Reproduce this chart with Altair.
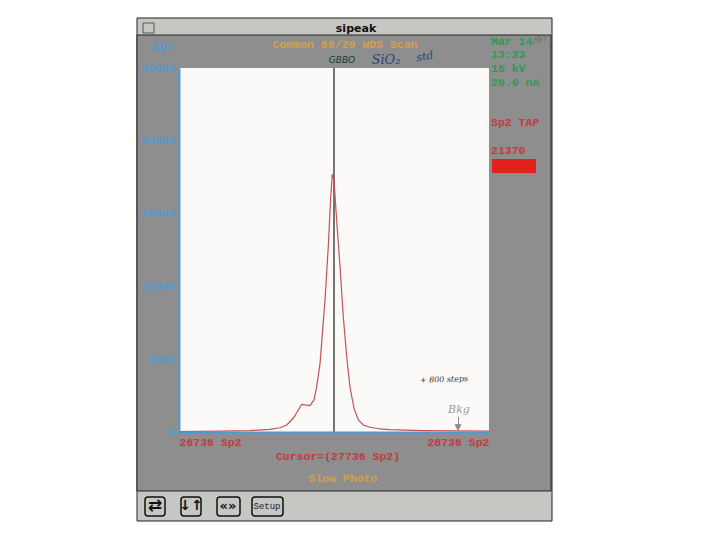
import altair as alt
import pandas as pd

spectrometer_pos = [26736, 27000, 27194, 27323, 27388, 27431, 27473, 27506, 27528, 27549, 27581, 27607,
                    27624, 27646, 27661, 27678, 27699, 27715, 27725, 27736, 27753, 27775, 27796, 27818,
                    27839, 27865, 27893, 27925, 27968, 28033, 28097, 28300, 28736]
counts = [40, 80, 120, 220, 350, 580, 1130, 1810, 2280, 2230, 2170, 2640,
          3730, 5660, 8130, 10880, 15270, 19390, 21250, 20770, 17470, 13620, 9500, 6200,
          3730, 1950, 990, 580, 390, 250, 190, 120, 80]
cursor_pos = [27736]
y_ticks = [0, 6000, 12000, 18000, 24000, 30000]
x_ticks = list(range(26736, 28737, 200))

df = pd.DataFrame({"pos": spectrometer_pos, "cps": counts})
one = pd.DataFrame({"a": [0]})
OX, OY = 171, 60   # plot area origin on the canvas


def box(x0, y0, x1, y1, fill, stroke=None, sw=1, r=0):
    kw = dict(fill=fill, cornerRadius=r)
    if stroke:
        kw.update(stroke=stroke, strokeWidth=sw)
    return alt.Chart(one).mark_rect(**kw).encode(
        x=alt.value(x0 - 179), x2=alt.value(x1 - 179),
        y=alt.value(y0 - 68), y2=alt.value(y1 - 68))


def txt(s, x, y, color, size=11.5, align="left", font="Liberation Mono", weight="bold", style="normal", angle=0):
    return alt.Chart(one).mark_text(text=s, color=color, fontSize=size, align=align, baseline="middle",
                                    font=font, fontWeight=weight, fontStyle=style, angle=angle).encode(
        x=alt.value(x - 179), y=alt.value(y - 68))


BLUE = "#4f9ad6"
RED = "#c23b40"
GREEN = "#2f9a55"
ORANGE = "#d6a048"
PANEL = "#8e8e8e"
CHROME = "#c6c6c3"

chrome = [
    box(137, 18, 552, 521, CHROME, stroke="#222222", sw=1),
    box(137, 35, 551, 491, PANEL, stroke="#222222", sw=1),
    box(143, 23, 154, 33, CHROME, stroke="#555555"),
    box(145, 497, 165, 516, CHROME, stroke="#111111", sw=1.5, r=3),
    box(181, 497, 201, 516, CHROME, stroke="#111111", sw=1.5, r=3),
    box(217, 497, 240, 516, CHROME, stroke="#111111", sw=1.5, r=3),
    box(252, 497, 283, 516, CHROME, stroke="#111111", sw=1.5, r=3),
    box(179, 68, 489, 432, "#fbfaf8"),
    box(492, 159, 536, 173, "#e2201c"),
    box(458, 417, 459, 428, "#8a8a8a"),
]
texts = [
    txt("Common 80/20 WDS Scan", 345, 45, ORANGE, align="center"),
    txt("Mar 14", 491, 42, GREEN),
    txt("/97", 533, 41, "#666666", size=9, font="DejaVu Serif", weight="normal", style="italic", angle=350),
    txt("13:23", 491, 55, GREEN),
    txt("15 kV", 491, 69, GREEN),
    txt("20.0 nA", 491, 83, GREEN),
    txt("Sp2 TAP", 491, 123, RED),
    txt("21370", 491, 151, RED),
    txt("GBBO", 342, 60, "#123a3a", size=9, align="center", font="DejaVu Sans", weight="normal", style="italic"),
    txt("SiO₂", 386, 60, "#2f3f7a", size=13, align="center", font="DejaVu Serif", weight="normal", style="italic"),
    txt("std", 425, 57, "#2f3f7a", size=11, align="center", font="DejaVu Serif", weight="normal", style="italic", angle=350),
    txt("+ 800 steps", 444, 380, "#333333", size=8, align="center", font="DejaVu Serif", weight="normal", style="italic", angle=358),
    txt("Bkg", 459, 410, "#9a9a9a", size=11, align="center", font="DejaVu Serif", weight="normal", style="italic"),
    txt("▼", 458, 427, "#8a8a8a", size=9, align="center", font="DejaVu Sans", weight="normal"),
    txt("Cursor=(27736 Sp2)", 338, 457, RED, align="center"),
    txt("Slow Photo", 343, 479, ORANGE, align="center"),
    txt("⇄", 155, 506, "#111111", size=17, align="center", font="DejaVu Sans"),
    txt("↓↑", 191, 506, "#111111", size=14, align="center", font="DejaVu Sans"),
    txt("«»", 228, 506, "#111111", size=13, align="center", font="DejaVu Sans"),
    txt("Setup", 267, 506, "#222222", size=9, align="center", font="Liberation Mono", weight="normal"),
]

x_scale = alt.Scale(domain=[26736, 28736], nice=False, zero=False)
y_scale = alt.Scale(domain=[0, 30000], nice=False)

line = alt.Chart(df).mark_line(color="#c4515a", strokeWidth=1.2, clip=True).encode(
    x=alt.X("pos:Q", scale=x_scale, axis=alt.Axis(
        values=x_ticks, title=None, grid=False, zindex=1, domainColor=BLUE, domainWidth=2, tickColor=BLUE, tickSize=3,
        labelColor=RED, labelFont="Liberation Mono", labelFontWeight="bold", labelFontSize=11.5, labelFlush=True,
        labelOverlap=False, labelPadding=1,
        labelExpr="datum.value==26736||datum.value==28736 ? format(datum.value,'d')+' Sp2' : ''")),
    y=alt.Y("cps:Q", scale=y_scale, axis=alt.Axis(
        values=y_ticks, title="Cps", titleAngle=0, titleColor=BLUE, titleFont="Liberation Mono", titleFontSize=11.5,
        titleFontWeight="bold", titleX=-6, titleY=-17, titleAlign="right", grid=False, zindex=1,
        domainColor=BLUE, domainWidth=2, tickColor=BLUE, tickSize=3,
        labelColor=BLUE, labelFont="Liberation Mono", labelFontWeight="bold", labelFontSize=11.5, labelPadding=1,
        format="d")),
)
cursor = alt.Chart(pd.DataFrame({"pos": cursor_pos})).mark_rule(color="#1a1a1a", strokeWidth=1.2).encode(
    x=alt.X("pos:Q", scale=x_scale))

chart = alt.layer(*chrome, cursor, line, *texts).properties(
    width=310, height=364,
    title=alt.TitleParams("sipeak", font="DejaVu Sans", fontSize=11, fontWeight="bold", color="#111111",
                          anchor="middle", frame="group", offset=-16, dx=22),
    padding={"left": OX, "top": OY, "right": 223, "bottom": 100},
    autosize=alt.AutoSizeParams(type="none"),
).configure_view(stroke=None)

chart.save("out.html", embed_options={"renderer": "svg", "actions": False})
